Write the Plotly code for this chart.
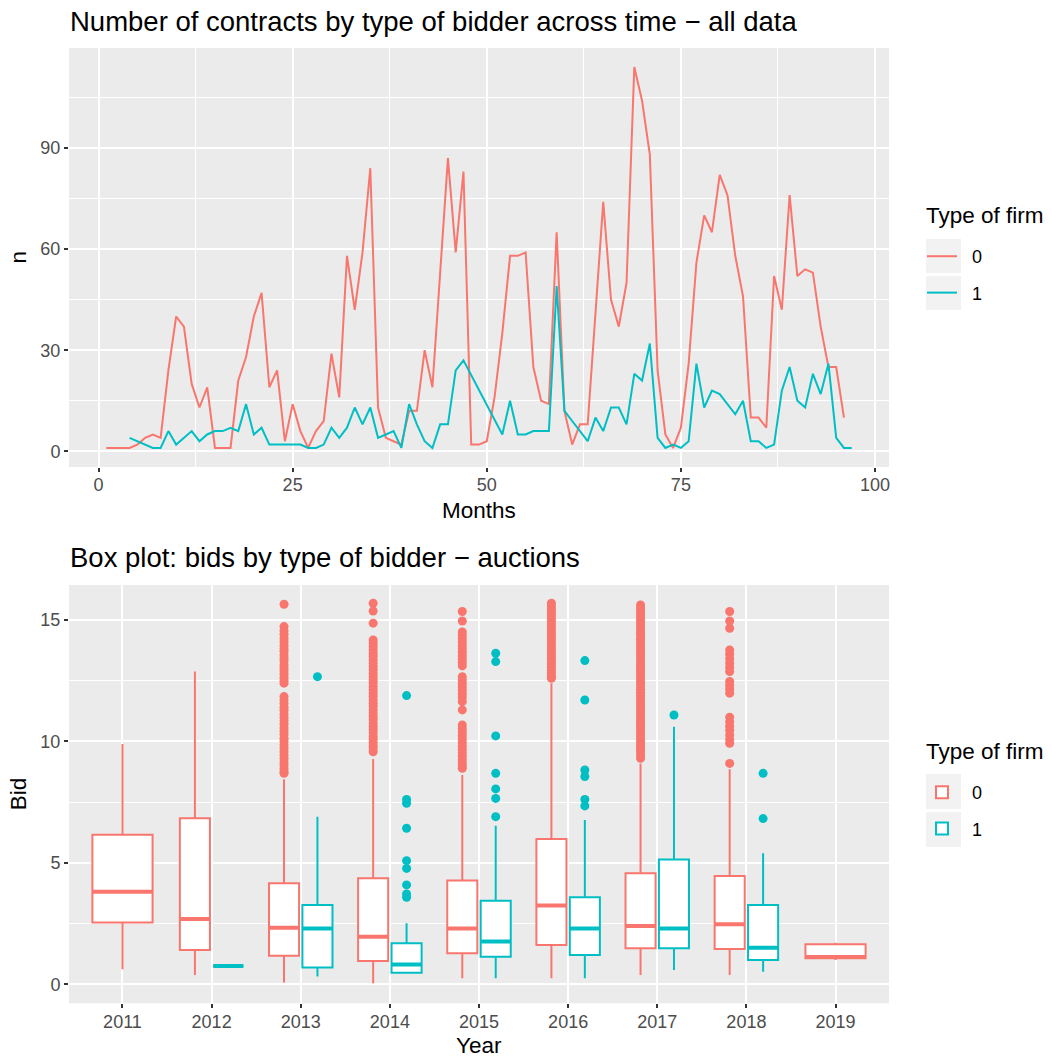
import plotly.graph_objects as go

RED = "#F8766D"
CYAN = "#00BFC4"
PANEL = "#EBEBEB"
KEY_BG = "#F2F2F2"
FONT = "Liberation Sans, Arial, sans-serif"

# ---- contracts per month, by type of firm ----
months_0 = list(range(1, 97))
n_0 = [1, 1, 1, 1, 2, 4, 5, 4, 24, 40,
       37, 20, 13, 19, 1, 1, 1, 21, 28, 40,
       47, 19, 24, 3, 14, 6, 1, 6, 9, 29,
       16, 58, 42, 59, 84, 13, 4, 3, 2, 12,
       12, 30, 19, 53, 87, 59, 83, 2, 2, 3,
       16, 35, 58, 58, 59, 25, 15, 14, 65, 12,
       2, 8, 8, 41, 74, 45, 37, 50, 114, 104,
       88, 24, 5, 1, 7, 26, 56, 70, 65, 82,
       76, 58, 46, 10, 10, 7, 52, 42, 76, 52,
       54, 53, 37, 25, 25, 10]

months_1 = list(range(4, 48)) + list(range(52, 98))
n_1 = [4, 3, 2, 1, 1, 6, 2, 4, 6, 3, 5, 6, 6, 7, 6, 14, 5, 7, 2, 2,
       2, 2, 2, 1, 1, 2, 7, 4, 7, 13, 8, 13, 4, 5, 6, 1, 14, 8, 3, 1,
       8, 8, 24, 27,
       5, 15, 5, 5, 6, 6, 6, 49, 12, 9, 6, 3, 10, 6, 13, 13, 8, 23, 21, 32,
       4, 1, 2, 1, 3, 26, 13, 18, 17, 14, 11, 15, 3, 3, 1, 2, 18, 25, 15, 13,
       23, 17, 26, 4, 1, 1]

# ---- bid distribution per year (box statistics) ----
years = ["2011", "2012", "2013", "2014", "2015", "2016", "2017", "2018", "2019"]

q1_0 = [2.54, 1.41, 1.18, 0.96, 1.28, 1.62, 1.48, 1.45, 1.07]
med_0 = [3.81, 2.69, 2.33, 1.96, 2.30, 3.24, 2.40, 2.47, 1.12]
q3_0 = [6.15, 6.83, 4.16, 4.36, 4.27, 5.98, 4.57, 4.46, 1.65]
lo_0 = [0.62, 0.38, 0.08, 0.04, 0.25, 0.25, 0.38, 0.38, 1.00]
hi_0 = [9.89, 12.87, 8.44, 9.27, 8.61, 12.39, 9.09, 8.85, 1.71]

q1_1 = [None, 0.75, 0.69, 0.48, 1.14, 1.21, 1.48, 1.00, None]
med_1 = [None, 0.75, 2.30, 0.82, 1.76, 2.30, 2.30, 1.51, None]
q3_1 = [None, 0.75, 3.26, 1.69, 3.44, 3.58, 5.14, 3.26, None]
lo_1 = [None, 0.75, 0.32, 0.45, 0.25, 0.25, 0.59, 0.52, None]
hi_1 = [None, 0.75, 6.90, 2.51, 6.52, 6.76, 10.60, 5.39, None]

out_0 = [
    [],
    [],
    [15.64, 14.72, 14.55, 14.40, 14.24, 14.10, 13.95, 13.82, 13.70, 13.55,
     13.42, 13.30, 13.15, 13.02, 12.90, 12.76, 12.62, 12.50, 12.39,
     11.84, 11.70, 11.55, 11.40, 11.28, 11.12, 10.98, 10.85, 10.70, 10.55,
     10.42, 10.28, 10.12, 10.00, 9.85, 9.72, 9.58, 9.44, 9.30, 9.15, 9.02,
     8.88, 8.76, 8.68],
    [15.68, 15.36, 14.86, 14.17, 14.05, 13.90, 13.76, 13.62, 13.50, 13.35,
     13.22, 13.08, 12.95, 12.80, 12.66, 12.52, 12.40, 12.25, 12.12, 11.98,
     11.85, 11.70, 11.57, 11.44, 11.30, 11.16, 11.02, 10.90, 10.75, 10.62,
     10.48, 10.35, 10.20, 10.08, 9.94, 9.80, 9.68, 9.57],
    [15.34, 14.95, 14.50, 14.36, 14.22, 14.08, 13.94, 13.80, 13.66, 13.52,
     13.38, 13.24, 13.10, 12.66, 12.52, 12.38, 12.24, 12.10, 11.96, 11.80,
     11.63, 11.29, 10.67, 10.52, 10.38, 10.24, 10.10, 9.95, 9.80, 9.66,
     9.52, 9.38, 9.24, 9.10, 8.98, 8.89],
    [15.68, 15.55, 15.42, 15.30, 15.18, 15.05, 14.92, 14.80, 14.68, 14.55,
     14.42, 14.30, 14.18, 14.05, 13.92, 13.80, 13.68, 13.55, 13.42, 13.30,
     13.18, 13.05, 12.92, 12.80, 12.68, 12.59],
    [15.61, 15.48, 15.35, 15.22, 15.10, 14.97, 14.84, 14.71, 14.58, 14.45,
     14.33, 14.20, 14.07, 13.94, 13.81, 13.68, 13.56, 13.43, 13.30, 13.17,
     13.04, 12.91, 12.79, 12.66, 12.53, 12.40, 12.27, 12.14, 12.02, 11.89,
     11.76, 11.63, 11.50, 11.37, 11.25, 11.12, 10.99, 10.86, 10.73, 10.60,
     10.48, 10.35, 10.22, 10.09, 9.96, 9.83, 9.71, 9.58, 9.44, 9.30],
    [15.34, 14.95, 14.65, 13.76, 13.58, 13.40, 13.22, 13.05, 12.87, 12.46,
     12.30, 12.14, 11.98, 10.99, 10.80, 10.62, 10.45, 10.26, 10.08, 9.92,
     9.09],
    [],
]
out_1 = [
    [],
    [],
    [12.66],
    [11.88, 7.61, 7.45, 6.42, 5.09, 4.77, 4.09, 3.72, 3.58],
    [13.62, 13.28, 10.22, 8.68, 8.04, 7.65, 6.90],
    [13.32, 11.70, 8.82, 8.55, 7.61, 7.34],
    [11.08],
    [8.68, 6.82],
    [],
]

# ---- dodge layout for the boxes (total width 0.75, padding 0.1) ----
DODGE = 0.75
PAD = 0.1
slots = [1, 2, 3, 4, 5, 6, 7, 8, 9]


def box_positions():
    pos0, pos1, w0, w1 = [], [], [], []
    for i, s in enumerate(slots):
        if q1_1[i] is None:
            pos0.append(s)
            w0.append(DODGE * (1 - PAD))
            pos1.append(None)
            w1.append(None)
        else:
            pos0.append(s - DODGE / 4)
            pos1.append(s + DODGE / 4)
            w0.append(DODGE / 2 * (1 - PAD))
            w1.append(DODGE / 2 * (1 - PAD))
    return pos0, pos1, w0, w1


pos0, pos1, w0, w1 = box_positions()

# legend labels, nudged away from their keys
LABEL_PAD = "\u00a0\u00a0"

fig = go.Figure()

# ---- top panel: line chart ----
fig.add_trace(go.Scatter(x=months_0, y=n_0, mode="lines", name=LABEL_PAD + "0",
                         line=dict(color=RED, width=2), legend="legend",
                         legendgroup="l0", xaxis="x", yaxis="y"))
fig.add_trace(go.Scatter(x=months_1, y=n_1, mode="lines", name=LABEL_PAD + "1",
                         line=dict(color=CYAN, width=2), legend="legend",
                         legendgroup="l1", xaxis="x", yaxis="y"))


# ---- bottom panel: box plots ----
def add_boxes(pos, widths, q1, med, q3, lo, hi, color, name):
    groups = {}
    for i in range(len(pos)):
        if pos[i] is None:
            continue
        groups.setdefault(round(widths[i], 4), []).append(i)
    shown = False
    for w, idx in groups.items():
        fig.add_trace(go.Box(
            x=[pos[i] for i in idx],
            q1=[q1[i] for i in idx], median=[med[i] for i in idx],
            q3=[q3[i] for i in idx], lowerfence=[lo[i] for i in idx],
            upperfence=[hi[i] for i in idx],
            width=w, whiskerwidth=0, boxpoints=False,
            line=dict(color=color, width=2), fillcolor="white",
            name=LABEL_PAD + name, showlegend=not shown,
            legend="legend2", legendgroup="b" + name,
            xaxis="x2", yaxis="y2", hoverinfo="skip"))
        shown = True
    # thicker median bars
    mx, my = [], []
    for i in range(len(pos)):
        if pos[i] is None:
            continue
        mx += [pos[i] - widths[i] / 2, pos[i] + widths[i] / 2, None]
        my += [med[i], med[i], None]
    fig.add_trace(go.Scatter(x=mx, y=my, mode="lines",
                             line=dict(color=color, width=4),
                             showlegend=False, xaxis="x2", yaxis="y2",
                             hoverinfo="skip"))


def add_outliers(pos, outs, color):
    ox, oy = [], []
    for i in range(len(pos)):
        if pos[i] is None:
            continue
        ox += [pos[i]] * len(outs[i])
        oy += outs[i]
    fig.add_trace(go.Scatter(x=ox, y=oy, mode="markers",
                             marker=dict(color=color, size=9, line=dict(width=0)),
                             showlegend=False, xaxis="x2", yaxis="y2",
                             hoverinfo="skip"))


add_outliers(pos0, out_0, RED)
add_outliers(pos1, out_1, CYAN)
add_boxes(pos0, w0, q1_0, med_0, q3_0, lo_0, hi_0, RED, "0")
add_boxes(pos1, w1, q1_1, med_1, q3_1, lo_1, hi_1, CYAN, "1")

W, H = 1052, 1062
XL, XR = 69, 889
TOP_Y = (48, 467)
BOT_Y = (585, 1003.3)


def px_x(p):
    return p / W


def px_y(p):
    return 1 - p / H


TITLE_SIZE = 27.5
AXIS_TITLE_SIZE = 22.5
TICK_SIZE = 18

tick_font = dict(family=FONT, size=TICK_SIZE, color="#4D4D4D")
common_axis = dict(showline=False, ticks="outside", ticklen=4, tickwidth=1.5,
                   tickcolor="#333333", gridcolor="white", gridwidth=1.8,
                   zeroline=False, tickfont=tick_font, showgrid=True)

legend_common = dict(xanchor="left", yanchor="top", bgcolor="rgba(0,0,0,0)",
                     tracegroupgap=10,
                     font=dict(size=TICK_SIZE, family=FONT, color="black"))

fig.update_layout(
    width=W, height=H,
    margin=dict(l=0, r=0, t=0, b=0),
    paper_bgcolor="white", plot_bgcolor=PANEL,
    font=dict(family=FONT, color="black"),
    boxmode="overlay",
    xaxis=dict(domain=[px_x(XL), px_x(XR)], anchor="y",
               range=[-3.8, 101.8], tickvals=[0, 25, 50, 75, 100],
               ticklabelstandoff=-3,
               minor=dict(dtick=12.5, tick0=0, showgrid=True,
                          gridcolor="white", gridwidth=0.9, ticks=""),
               **common_axis),
    yaxis=dict(domain=[px_y(TOP_Y[1]), px_y(TOP_Y[0])], anchor="x",
               range=[-4.65, 119.65], tickvals=[0, 30, 60, 90],
               minor=dict(dtick=15, tick0=0, showgrid=True,
                          gridcolor="white", gridwidth=0.9, ticks=""),
               **common_axis),
    xaxis2=dict(domain=[px_x(XL), px_x(XR)], anchor="y2",
                range=[0.4, 9.6], tickvals=slots, ticktext=years,
                ticklabelstandoff=-2,
                **common_axis),
    yaxis2=dict(domain=[px_y(BOT_Y[1]), px_y(BOT_Y[0])], anchor="x2",
                range=[-0.78, 16.43], tickvals=[0, 5, 10, 15],
                minor=dict(dtick=2.5, tick0=0, showgrid=True,
                           gridcolor="white", gridwidth=0.9, ticks=""),
                **common_axis),
    legend=dict(x=px_x(922), y=px_y(238), **legend_common),
    legend2=dict(x=px_x(922), y=px_y(774), **legend_common),
)

# grey key backgrounds behind the legend entries
KEY_X = (926, 961)
key_rows = [(239, 273), (276, 310), (774, 809), (812, 847)]
shapes = []
for y0, y1 in key_rows:
    shapes.append(dict(type="rect", xref="paper", yref="paper",
                       x0=px_x(KEY_X[0]), x1=px_x(KEY_X[1]),
                       y0=px_y(y1), y1=px_y(y0),
                       fillcolor=KEY_BG, line=dict(width=0), layer="below"))
fig.update_layout(shapes=shapes)

annotations = [
    dict(text="Number of contracts by type of bidder across time \u2212 all data",
         x=px_x(XL - 1), y=px_y(22), xanchor="left", yanchor="middle",
         font=dict(size=TITLE_SIZE)),
    dict(text="Box plot: bids by type of bidder \u2212 auctions",
         x=px_x(XL - 1), y=px_y(557), xanchor="left", yanchor="middle",
         font=dict(size=TITLE_SIZE)),
    dict(text="Months", x=px_x((XL + XR) / 2), y=px_y(510),
         xanchor="center", yanchor="middle", font=dict(size=AXIS_TITLE_SIZE)),
    dict(text="Year", x=px_x((XL + XR) / 2), y=px_y(1045),
         xanchor="center", yanchor="middle", font=dict(size=AXIS_TITLE_SIZE)),
    dict(text="n", x=px_x(18), y=px_y((TOP_Y[0] + TOP_Y[1]) / 2),
         xanchor="center", yanchor="middle", textangle=-90,
         font=dict(size=AXIS_TITLE_SIZE)),
    dict(text="Bid", x=px_x(18), y=px_y((BOT_Y[0] + BOT_Y[1]) / 2),
         xanchor="center", yanchor="middle", textangle=-90,
         font=dict(size=AXIS_TITLE_SIZE)),
    dict(text="Type of firm", x=px_x(924), y=px_y(215),
         xanchor="left", yanchor="middle", font=dict(size=AXIS_TITLE_SIZE)),
    dict(text="Type of firm", x=px_x(924), y=px_y(751),
         xanchor="left", yanchor="middle", font=dict(size=AXIS_TITLE_SIZE)),
]
for a in annotations:
    a.update(xref="paper", yref="paper", showarrow=False)
    a["font"].update(family=FONT, color="black")
fig.update_layout(annotations=annotations)

fig.write_html("out.html")
